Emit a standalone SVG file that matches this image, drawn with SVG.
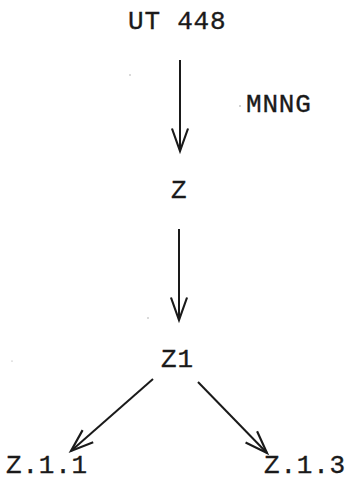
<svg xmlns="http://www.w3.org/2000/svg" width="350" height="481" viewBox="0 0 350 481">
  <style>
    .lbl { font-family: "Liberation Mono", "DejaVu Sans Mono", monospace; font-size: 26px; letter-spacing: 0.8px; fill: #1a1a1a; stroke: #1a1a1a; stroke-width: 0.35px; }
    .edge { stroke: #1a1a1a; stroke-width: 2; fill: none; }
    .speck { fill: #999; }
  </style>
  <defs>
    <marker id="open-arrow" markerUnits="userSpaceOnUse" markerWidth="30" markerHeight="30" viewBox="-24 -12 28 24" refX="0" refY="0" orient="auto">
      <path d="M-21,-7.5 L0,0 L-21,7.5" fill="none" stroke="#1a1a1a" stroke-width="2"/>
    </marker>
  </defs>
  <rect width="350" height="481" fill="#ffffff"/>

  <g id="connectors">
    <line class="edge" x1="180" y1="60" x2="180" y2="151" marker-end="url(#open-arrow)"/>
    <line class="edge" x1="179" y1="229" x2="179" y2="320" marker-end="url(#open-arrow)"/>
    <line class="edge" x1="153" y1="379" x2="71" y2="451" marker-end="url(#open-arrow)"/>
    <line class="edge" x1="198" y1="382" x2="267" y2="453" marker-end="url(#open-arrow)"/>
  </g>

  <g id="node-ut448"><text class="lbl" x="128" y="29">UT 448</text></g>
  <g id="label-mnng"><text class="lbl" x="246" y="112">MNNG</text></g>
  <g id="node-z"><text class="lbl" x="171" y="198">Z</text></g>
  <g id="node-z1"><text class="lbl" x="161" y="367">Z1</text></g>
  <g id="node-z11"><text class="lbl" x="6" y="473">Z.1.1</text></g>
  <g id="node-z13"><text class="lbl" x="264" y="473">Z.1.3</text></g>

  <g id="specks">
    <circle class="speck" cx="240" cy="106" r="0.8"/>
    <circle class="speck" cx="130" cy="75" r="0.7"/>
    <circle class="speck" cx="148" cy="318" r="0.7"/>
    <circle class="speck" cx="12" cy="361" r="0.6"/>
  </g>
</svg>
